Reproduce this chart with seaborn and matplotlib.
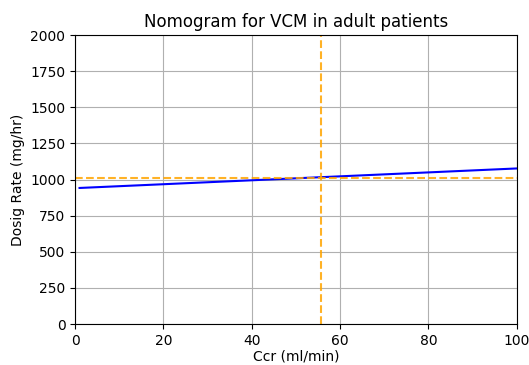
import matplotlib
matplotlib.use("Agg")
import matplotlib.pyplot as plt
import seaborn as sns
import pandas as pd

ccr = [1, 100]
dose_rate = [942, 1077]
target_ccr = 55.7
target_dose = 1010

df = pd.DataFrame({"ccr": ccr, "dose": dose_rate})

fig = plt.figure(figsize=(5.29, 3.65), dpi=100)
ax = fig.add_axes([0.142, 0.112, 0.835, 0.792])
sns.lineplot(data=df, x="ccr", y="dose", color="blue", ax=ax, linewidth=1.5)
ax.axvline(target_ccr, color="orange", linestyle="--", linewidth=1.5, alpha=0.85)
ax.axhline(target_dose, color="orange", linestyle="--", linewidth=1.5, alpha=0.85)
ax.set_xlim(0, 100)
ax.set_ylim(0, 2000)
ax.set_yticks(range(0, 2001, 250))
ax.grid(True, color="#b0b0b0", linewidth=0.8)
ax.set_title("Nomogram for VCM in adult patients")
ax.set_xlabel("Ccr (ml/min)", labelpad=1.5)
ax.set_ylabel("Dosig Rate (mg/hr)")
fig.savefig("out.png", dpi=100)
